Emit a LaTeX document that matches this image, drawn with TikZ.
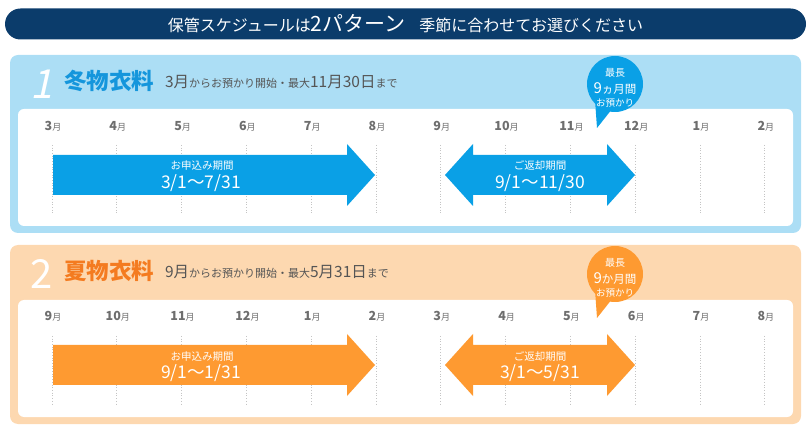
\documentclass[tikz,border=0pt]{standalone}
\usepackage{fontspec}
\setmainfont{Noto Sans CJK JP}
\newfontfamily\slantfont{Noto Sans CJK JP}[FakeSlant=0.22]
\usetikzlibrary{positioning}

\definecolor{navy}{HTML}{0B3C6B}
\definecolor{wpanel}{HTML}{ACDEF5}
\definecolor{warrow}{HTML}{0AA0E6}
\definecolor{whead}{HTML}{1596DC}
\definecolor{spanel}{HTML}{FDD8B0}
\definecolor{sarrow}{HTML}{FE9A31}
\definecolor{shead}{HTML}{F47B20}
\definecolor{txtgray}{HTML}{555555}
\definecolor{monthgray}{HTML}{6E6E6E}
\definecolor{tickgray}{HTML}{C4C4C4}

\begin{document}
\begin{tikzpicture}[
    x=1pt, y=-1pt,
    every node/.style={inner sep=0pt, outer sep=0pt},
    titlebar/.style={
        fill=navy,
        rounded corners=15.5pt,
        minimum width=801pt,
        minimum height=31pt,
        text=white
    },
    panel/.style={rounded corners=8pt},
    sheet/.style={fill=white, rounded corners=6pt},
    bignum/.style={text=white, font=\fontsize{40}{40}\selectfont, anchor=base west},
    heading/.style={font=\bfseries\fontsize{22.5}{22.5}\selectfont, anchor=base west},
    subline/.style={text=txtgray, anchor=base west},
    month/.style={text=monthgray, anchor=base},
    tick/.style={draw=tickgray, dotted, line width=0.7pt},
    arrowlabel/.style={text=white, font=\fontsize{10.5}{10.5}\selectfont, anchor=base},
    arrowdate/.style={text=white, font=\fontsize{17.5}{17.5}\selectfont, anchor=base},
    bubble/.style={circle, minimum size=56pt},
    bubbletext/.style={text=white, anchor=base}
]
\useasboundingbox (0,0) rectangle (811,435);

% ------------------------
% Title bar
% ------------------------
\node[titlebar] (title) at (405.5,24) {%
{\fontsize{16}{16}\selectfont 保管スケジュールは}%
{\fontsize{21}{21}\selectfont 2パターン}\hspace{14pt}%
{\fontsize{16}{16}\selectfont 季節に合わせてお選びください}%
};

% ------------------------
% Pattern 1: winter clothes
% ------------------------
\fill[panel, wpanel] (10,55) rectangle (801,233);
\fill[sheet] (18,109) rectangle (793,226);

\node[bignum] (wnum) at (30,99) {\slantfont 1};
\node[heading, text=whead] (whead) at (64,90) {冬物衣料};
\node[subline] (wsub) at (165,88) {%
{\fontsize{15.5}{15.5}\selectfont 3月}%
{\fontsize{11}{11}\selectfont からお預かり開始・最大}%
{\fontsize{15.5}{15.5}\selectfont 11月30日}%
{\fontsize{11}{11}\selectfont まで}};

% months and dotted guides
\foreach \m [count=\i from 0] in {3,4,5,6,7,8,9,10,11,12,1,2} {
    \draw[tick] (52+64.8*\i,145) -- (52+64.8*\i,213);
    \node[month] (wm\i) at (53+64.8*\i,131)
        {{\bfseries\fontsize{12.5}{12.5}\selectfont\m}{\fontsize{9}{9}\selectfont 月}};
}

% application period
\fill[warrow] (53,155) -- (347,155) -- (347,144) -- (375,175)
    -- (347,206) -- (347,195) -- (53,195) -- cycle;
\node[arrowlabel] (wapply) at (202,170) {お申込み期間};
\node[arrowdate] (wapplyd) at (201,189) {3/1〜7/31};

% return period
\fill[warrow] (445,175) -- (473,144) -- (473,155) -- (607,155)
    -- (607,144) -- (635,175) -- (607,206) -- (607,195)
    -- (473,195) -- (473,206) -- cycle;
\node[arrowlabel] (wreturn) at (540,170) {ご返却期間};
\node[arrowdate] (wreturnd) at (540,189) {9/1〜11/30};

% balloon
\node[bubble, fill=warrow] (wbubble) at (615,84) {};
\fill[warrow] (595,100) -- (597,128) -- (616,104) -- cycle;
\node[bubbletext, font=\fontsize{10}{10}\selectfont] (wmax) at (615,77) {最長};
\node[bubbletext] (wnine) at (615,93.5)
    {{\fontsize{15}{15}\selectfont 9}{\fontsize{11.5}{11.5}\selectfont ヵ月間}};
\node[bubbletext, font=\fontsize{9.5}{9.5}\selectfont] (wkeep) at (615,107) {お預かり};

% ------------------------
% Pattern 2: summer clothes
% ------------------------
\begin{scope}[shift={(0,190)}]
\fill[panel, spanel] (10,55) rectangle (801,234);
\fill[sheet] (18,110) rectangle (793,227);

\node[bignum] (snum) at (30,99) {2};
\node[heading, text=shead] (shead) at (64,90) {夏物衣料};
\node[subline] (ssub) at (165,88) {%
{\fontsize{15.5}{15.5}\selectfont 9月}%
{\fontsize{11}{11}\selectfont からお預かり開始・最大}%
{\fontsize{15.5}{15.5}\selectfont 5月31日}%
{\fontsize{11}{11}\selectfont まで}};

% months and dotted guides
\foreach \m [count=\i from 0] in {9,10,11,12,1,2,3,4,5,6,7,8} {
    \draw[tick] (52+64.8*\i,146) -- (52+64.8*\i,214);
    \node[month] (sm\i) at (53+64.8*\i,131)
        {{\bfseries\fontsize{12.5}{12.5}\selectfont\m}{\fontsize{9}{9}\selectfont 月}};
}

% application period
\fill[sarrow] (53,155) -- (347,155) -- (347,144) -- (375,175)
    -- (347,206) -- (347,195) -- (53,195) -- cycle;
\node[arrowlabel] (sapply) at (202,170) {お申込み期間};
\node[arrowdate] (sapplyd) at (201,189) {9/1〜1/31};

% return period
\fill[sarrow] (445,175) -- (473,144) -- (473,155) -- (607,155)
    -- (607,144) -- (635,175) -- (607,206) -- (607,195)
    -- (473,195) -- (473,206) -- cycle;
\node[arrowlabel] (sreturn) at (540,170) {ご返却期間};
\node[arrowdate] (sreturnd) at (540,189) {3/1〜5/31};

% balloon
\node[bubble, fill=sarrow] (sbubble) at (615,84) {};
\fill[sarrow] (595,100) -- (597,128) -- (616,104) -- cycle;
\node[bubbletext, font=\fontsize{10}{10}\selectfont] (smax) at (615,77) {最長};
\node[bubbletext] (snine) at (615,93.5)
    {{\fontsize{15}{15}\selectfont 9}{\fontsize{11.5}{11.5}\selectfont か月間}};
\node[bubbletext, font=\fontsize{9.5}{9.5}\selectfont] (skeep) at (615,107) {お預かり};
\end{scope}

\end{tikzpicture}
\end{document}
